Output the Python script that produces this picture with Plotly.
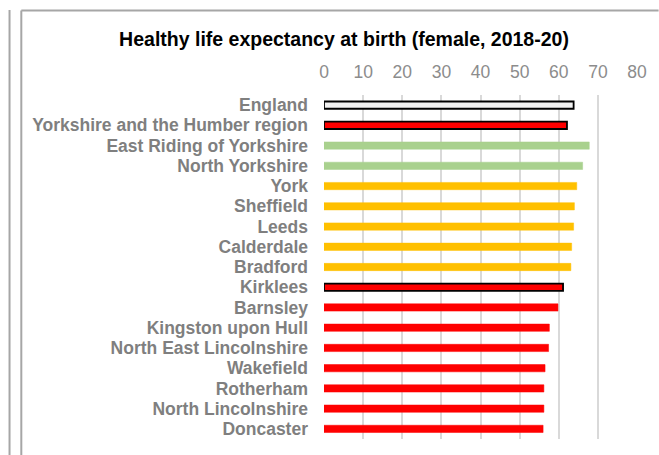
import plotly.graph_objects as go

categories = ["England", "Yorkshire and the Humber region", "East Riding of Yorkshire",
              "North Yorkshire", "York", "Sheffield", "Leeds", "Calderdale", "Bradford",
              "Kirklees", "Barnsley", "Kingston upon Hull", "North East Lincolnshire",
              "Wakefield", "Rotherham", "North Lincolnshire", "Doncaster"]
values = [63.8, 62.1, 67.8, 66.1, 64.6, 64.0, 63.8, 63.3, 63.1, 61.1, 59.8, 57.6, 57.4,
          56.5, 56.2, 56.2, 56.0]
groups = ["benchmark", "worse", "better", "better", "similar", "similar", "similar",
          "similar", "similar", "worse", "worse", "worse", "worse", "worse", "worse",
          "worse", "worse"]
outlined = ["England", "Yorkshire and the Humber region", "Kirklees"]
tick_vals = [0, 10, 20, 30, 40, 50, 60, 70, 80]
title_text = "Healthy life expectancy at birth (female, 2018-20)"

color_map = {"benchmark": "#f2f2f2", "worse": "#ff0000", "better": "#a9d18e", "similar": "#ffc000"}
colors = [color_map[g] for g in groups]
line_colors = ["#000000" if c in outlined else colors[i] for i, c in enumerate(categories)]
line_widths = [1.8 if c in outlined else 0.5 for c in categories]

W, H = 659, 455
L, R, T, B = 324, 16, 95, 16

fig = go.Figure(go.Bar(
    x=values, y=categories, orientation="h",
    marker=dict(color=colors, line=dict(color=line_colors, width=line_widths)),
    width=0.36,
))

pw = W - L - R
ph = H - T - B


def px_x(p):
    return (p - L) / pw


def px_y(p):
    return 1 - (p - T) / ph


border = dict(color="#a6a6a6", width=2)
shapes = [
    dict(type="line", xref="paper", yref="paper", x0=px_x(3.5), x1=px_x(3.5), y0=px_y(10), y1=px_y(460), line=border),
    dict(type="line", xref="paper", yref="paper", x0=px_x(15.5), x1=px_x(15.5), y0=px_y(10.5), y1=px_y(460), line=border),
    dict(type="line", xref="paper", yref="paper", x0=px_x(15.5), x1=px_x(665), y0=px_y(10.5), y1=px_y(10.5), line=border),
]

fig.update_layout(
    width=W, height=H,
    margin=dict(l=L, r=R, t=T, b=B),
    paper_bgcolor="white", plot_bgcolor="white",
    font=dict(family="Liberation Sans, Arial, sans-serif"),
    title=dict(text="<b>" + title_text + "</b>", x=344 / W, xanchor="center", xref="container",
               y=1 - 39 / H, yanchor="middle", yref="container",
               font=dict(size=19.5, color="#000000")),
    showlegend=False,
    shapes=shapes,
    bargap=0.5,
)
fig.update_xaxes(
    range=[0, 80], side="top", tickmode="array", tickvals=tick_vals, showgrid=True,
    gridcolor="#d9d9d9", gridwidth=1.5, zeroline=False, showline=False, ticks="",
    tickfont=dict(size=17.5, color="#8c8c8c"), ticklabelstandoff=13,
)
fig.update_yaxes(
    categoryorder="array", categoryarray=categories, autorange="reversed",
    tickmode="array", tickvals=categories, ticktext=categories,
    showgrid=False, zeroline=False, showline=False, ticks="",
    tickfont=dict(size=17.5, color="#7f7f7f", weight="bold"), ticklabelstandoff=15,
)

fig.write_html("out.html", config={"displayModeBar": False},
               post_script="document.body.style.margin='0';")
